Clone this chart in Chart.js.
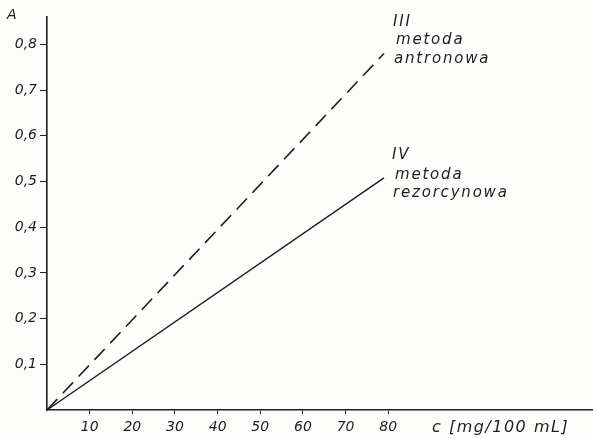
<!DOCTYPE html>
<html>
<head>
<meta charset="utf-8">
<script src="https://cdn.jsdelivr.net/npm/chart.js@4/dist/chart.umd.min.js"></script>
<style>
  html, body { margin: 0; padding: 0; background: #fdfdfb; }
  #wrap { width: 593px; height: 439px; position: relative; }
</style>
</head>
<body>
<div id="wrap"><canvas id="chart"></canvas></div>
<script>
var conc = [0, 79];
var antronowa = [0, 0.78];    // III metoda antronowa (dashed)
var rezorcynowa = [0, 0.508]; // IV metoda rezorcynowa (solid)
var xTicks = [10, 20, 30, 40, 50, 60, 70, 80];
var yTicks = [0.1, 0.2, 0.3, 0.4, 0.5, 0.6, 0.7, 0.8];

var ink = '#1e1e1e';

function pts(ys) {
    return conc.map(function (c, i) { return { x: c, y: ys[i] }; });
}

// hand-written notes next to the line ends
var notes = {
    id: 'notes',
    afterDraw: function (chart) {
        var c = chart.ctx;
        var xs = chart.scales.x, ys = chart.scales.y;
        var n = conc.length - 1;
        c.save();
        c.fillStyle = ink;
        c.textBaseline = 'middle';
        c.textAlign = 'left';

        c.font = 'italic 14px "DejaVu Sans"';
        c.fillText('A', 7, 15);

        c.font = 'italic 16px "DejaVu Sans"';
        c.letterSpacing = '1.5px';
        c.fillText('c [mg/100 mL]', 432, 428);

        var px = xs.getPixelForValue(conc[n]);
        var p1 = ys.getPixelForValue(antronowa[n]);
        var p2 = ys.getPixelForValue(rezorcynowa[n]);
        c.font = 'italic 15px "DejaVu Sans"';
        c.letterSpacing = '1.8px';
        c.fillText('III', px + 9, p1 - 31);
        c.fillText('metoda', px + 12, p1 - 13);
        c.fillText('antronowa', px + 10, p1 + 6);
        c.fillText('IV', px + 8, p2 - 23);
        c.fillText('metoda', px + 11, p2 - 3);
        c.fillText('rezorcynowa', px + 9, p2 + 15);
        c.restore();
    }
};

new Chart(document.getElementById('chart'), {
    type: 'line',
    data: {
        datasets: [{
            label: 'III metoda antronowa',
            data: pts(antronowa),
            borderColor: ink,
            borderWidth: 1.6,
            borderDash: [15, 8],
            pointRadius: 0
        }, {
            label: 'IV metoda rezorcynowa',
            data: pts(rezorcynowa),
            borderColor: ink,
            borderWidth: 1.4,
            pointRadius: 0
        }]
    },
    options: {
        responsive: true,
        maintainAspectRatio: false,
        animation: false,
        layout: { padding: { top: 17, right: 0, left: 0, bottom: 0 } },
        plugins: { legend: { display: false }, tooltip: { enabled: false } },
        scales: {
            x: {
                type: 'linear',
                min: 0,
                max: 128,
                afterFit: function (s) { s.height = 29; },
                afterBuildTicks: function (s) { s.ticks = xTicks.map(function (v) { return { value: v }; }); },
                border: { color: ink, width: 1.6 },
                grid: { drawOnChartArea: false, color: ink, tickLength: 4 },
                ticks: { color: ink, font: { family: 'DejaVu Sans', style: 'italic', size: 14 }, padding: 5, maxRotation: 0 }
            },
            y: {
                type: 'linear',
                min: 0,
                max: 0.86,
                afterFit: function (s) { s.width = 47; },
                afterBuildTicks: function (s) { s.ticks = yTicks.map(function (v) { return { value: v }; }); },
                border: { color: ink, width: 1.6 },
                grid: { drawOnChartArea: false, color: ink, tickLength: 7 },
                ticks: {
                    color: ink,
                    font: { family: 'DejaVu Sans', style: 'italic', size: 14 },
                    padding: 3,
                    callback: function (v) { return v.toFixed(1).replace('.', ','); }
                }
            }
        }
    },
    plugins: [notes]
});
</script>
</body>
</html>
